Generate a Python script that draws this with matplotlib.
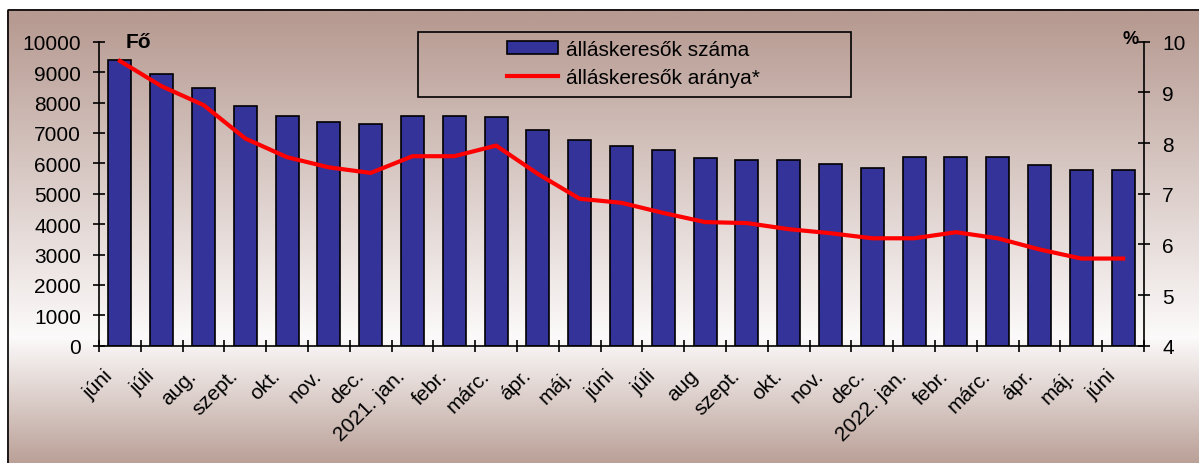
import matplotlib.pyplot as plt
import matplotlib.transforms as mtransforms
import numpy as np
from matplotlib.patches import Rectangle, Patch
from matplotlib.lines import Line2D

plt.rcParams['font.family'] = ['Liberation Sans', 'DejaVu Sans']

# Data
months = ['júni', 'júli', 'aug.', 'szept.', 'okt.', 'nov.', 'dec.',
          '2021. jan.', 'febr.', 'márc.', 'ápr.', 'máj.', 'júni', 'júli',
          'aug', 'szept.', 'okt.', 'nov.', 'dec.', '2022. jan.', 'febr.',
          'márc.', 'ápr.', 'máj.', 'júni']
job_seekers = [9400, 8950, 8490, 7890, 7560, 7370, 7300, 7560, 7560, 7510,
               7100, 6780, 6580, 6450, 6190, 6120, 6120, 5990, 5860, 6200,
               6200, 6200, 5930, 5790, 5790]
seeker_rate = [9.62, 9.12, 8.75, 8.09, 7.72, 7.52, 7.41, 7.74, 7.74, 7.95,
               7.39, 6.9, 6.82, 6.62, 6.44, 6.42, 6.3, 6.22, 6.12, 6.12,
               6.24, 6.12, 5.9, 5.72, 5.72]

W, H = 1199, 464
FS = 15
fig = plt.figure(figsize=(W / 100, H / 100), dpi=100)
fig.patch.set_facecolor('white')

# Background gradient panel with black frame
bg = fig.add_axes([0, 0, 1, 1], zorder=-10)
rows = np.arange(H)
stop_y = [10, 335, H]
stop_c = np.array([[183, 155, 146], [252, 250, 250], [186, 160, 151]]) / 255
grad = np.stack([np.interp(rows, stop_y, stop_c[:, k]) for k in range(3)], axis=1)
img = np.repeat(grad[:, None, :], 2, axis=1)
bg.imshow(img, extent=(7, W + 5, H, 10), aspect='auto', interpolation='bilinear')
bg.add_patch(Rectangle((7.5, 10.5), W + 20, H + 20, fill=False, ec='black', lw=1.2))
bg.set_xlim(0, W)
bg.set_ylim(H, 0)
bg.axis('off')

ax = fig.add_axes([99 / W, 1 - 346.7 / H, (1144 - 99) / W, (346.7 - 42.7) / H])
ax.set_facecolor('none')
x = np.arange(len(months))
ax.bar(x, job_seekers, width=0.55, color='#333399', edgecolor='black', lw=1.2, zorder=2)
ax.set_xlim(-0.5, len(months) - 0.5)
ax.set_ylim(0, 10000)
ax.set_yticks(np.arange(0, 10001, 1000))
ax.tick_params(axis='y', direction='inout', length=8, width=1.2, labelsize=FS, pad=9)

ax.set_xticks(x)
ax.set_xticklabels(months, rotation=45, ha='right', va='center', rotation_mode='anchor')
ax.tick_params(axis='x', which='major', length=0, labelsize=FS, pad=19)
shift = mtransforms.ScaledTranslation(-10 / 100, 0, fig.dpi_scale_trans)
for lab in ax.get_xticklabels():
    lab.set_transform(lab.get_transform() + shift)
ax.set_xticks(np.arange(-0.5, len(months)), minor=True)
ax.tick_params(axis='x', which='minor', direction='inout', length=8, width=1.2)
for s in ['top', 'right']:
    ax.spines[s].set_visible(False)
for s in ['left', 'bottom']:
    ax.spines[s].set_linewidth(1.2)

ax2 = ax.twinx()
ax2.plot(x, seeker_rate, color='#ff0000', lw=3, solid_joinstyle='round', zorder=3)
ax2.set_ylim(4, 10)
ax2.set_yticks(np.arange(4, 11, 1))
ax2.tick_params(axis='y', direction='inout', length=8, width=1.2, labelsize=FS, pad=9)
for s in ['top', 'left', 'bottom']:
    ax2.spines[s].set_visible(False)
ax2.spines['right'].set_linewidth(1.2)

fig.text(126 / W, 1 - 43 / H, 'Fő', fontsize=FS, fontweight='bold', va='center', ha='left')
fig.text(1131 / W, 1 - 40 / H, '%', fontsize=13, fontweight='bold', va='center', ha='center')

# Legend with its own frame
fig.add_artist(Rectangle((418 / W, 1 - 98 / H), (851 - 418) / W, 65 / H,
                         transform=fig.transFigure, fill=False, ec='black', lw=1.2))
handles = [Patch(facecolor='#333399', edgecolor='black', lw=1.2),
           Line2D([], [], color='#ff0000', lw=3)]
fig.legend(handles, ['álláskeresők száma', 'álláskeresők aránya*'],
           loc='center left', bbox_to_anchor=(507 / W, 1 - 64.5 / H),
           frameon=False, fontsize=FS, borderpad=0, borderaxespad=0,
           handlelength=2.45, handleheight=0.6, handletextpad=0.4,
           labelspacing=0.45)

fig.savefig('out.png', dpi=100)
